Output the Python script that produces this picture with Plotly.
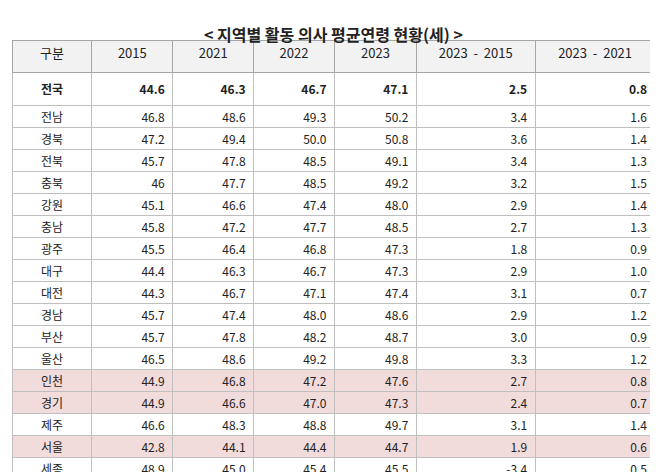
import plotly.graph_objects as go

regions = ["전국","전남","경북","전북","충북","강원","충남","광주","대구","대전","경남","부산","울산","인천","경기","제주","서울","세종"]
y2015 = ["44.6","46.8","47.2","45.7","46","45.1","45.8","45.5","44.4","44.3","45.7","45.7","46.5","44.9","44.9","46.6","42.8","48.9"]
y2021 = ["46.3","48.6","49.4","47.8","47.7","46.6","47.2","46.4","46.3","46.7","47.4","47.8","48.6","46.8","46.6","48.3","44.1","45.0"]
y2022 = ["46.7","49.3","50.0","48.5","48.5","47.4","47.7","46.8","46.7","47.1","48.0","48.2","49.2","47.2","47.0","48.8","44.4","45.4"]
y2023 = ["47.1","50.2","50.8","49.1","49.2","48.0","48.5","47.3","47.3","47.4","48.6","48.7","49.8","47.6","47.3","49.7","44.7","45.5"]
d15 = ["2.5","3.4","3.6","3.4","3.2","2.9","2.7","1.8","2.9","3.1","2.9","3.0","3.3","2.7","2.4","3.1","1.9","-3.4"]
d21 = ["0.8","1.6","1.4","1.3","1.5","1.4","1.3","0.9","1.0","0.7","1.2","0.9","1.2","0.8","0.7","1.4","0.6","0.5"]
headers = ["구분","2015","2021","2022","2023","2023  -  2015","2023  -  2021"]
highlight = ["인천","경기","서울"]

cols = [regions, y2015, y2021, y2022, y2023, d15, d21]
cols = [[f"<b>{v}</b>" if i == 0 else v for i, v in enumerate(c)] for c in cols]
row_fill = ["#f2dcdb" if r in highlight else "white" for r in regions]

# page body has an 8px margin; size the figure so it fits the 658x472 window
W, H = 650, 464
fig = go.Figure(go.Table(
    columnwidth=[80, 81, 81, 81, 82, 119, 120],
    header=dict(values=headers, fill_color="#f2f2f2", line_color="#a6a6a6",
                align="center", height=32,
                font=dict(family="Noto Sans CJK KR", size=13, color="#222")),
    cells=dict(values=cols, fill_color=[row_fill]*7, line_color="#bfbfbf",
               align=["center"] + ["right"]*6, height=22,
               font=dict(family="Noto Sans CJK KR", size=12, color="#222")),
    domain=dict(x=[4/W, 647/W], y=[0, 1 - 32/H]),
))
fig.add_annotation(text="<b>< 지역별 활동 의사 평균연령 현황(세) ></b>", x=0.5, y=1 - 12/H,
                   xref="paper", yref="paper", showarrow=False,
                   font=dict(family="Noto Sans CJK KR", size=16, color="#222"))
fig.update_layout(width=W, height=H, margin=dict(l=0, r=0, t=0, b=0),
                  paper_bgcolor="white")
fig.write_html("out.html")
